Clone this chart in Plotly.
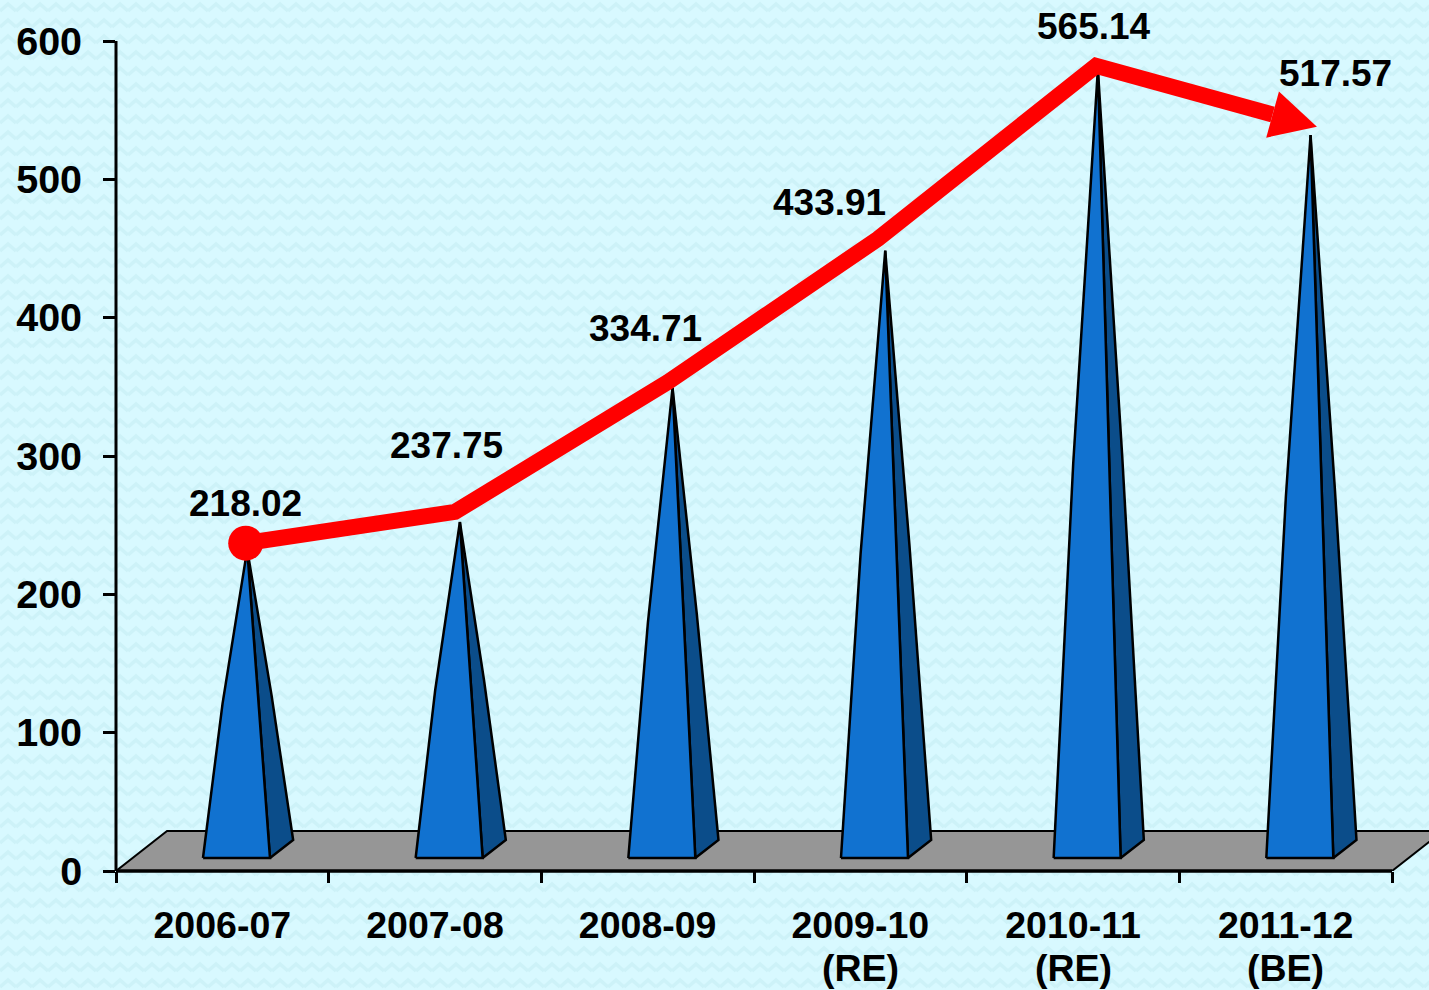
import base64
import plotly.graph_objects as go

# ---- data ----
years = ["2006-07", "2007-08", "2008-09", "2009-10", "2010-11", "2011-12"]
year_notes = ["", "", "", "(RE)", "(RE)", "(BE)"]
values = [218.02, 237.75, 334.71, 433.91, 565.14, 517.57]
value_labels = ["218.02", "237.75", "334.71", "433.91", "565.14", "517.57"]
trend_line = [237, 259.6, 353.5, 457, 582, 538]
y_ticks = [0, 100, 200, 300, 400, 500, 600]

# ---- layout constants ----
W, H = 1429, 990
L, R, T, B = 116, 1392, 41, 871
PX_X = (R - L) / 6
PX_Y = (B - T) / 600
BLACK = "#000000"
FRONT = "#1172d0"
SIDE = "#0b4d8a"
RED = "#ff0000"
FLOOR = "#969696"
FONT = dict(family="Liberation Sans, Arial, sans-serif", size=37, color=BLACK, weight=700)
XFONT = dict(FONT, size=37.5)
YFONT = dict(FONT, size=39.5)

# offsets in axis units
FRONT_L, FRONT_R, SIDE_R, APEX_X = -0.091, 0.224, 0.333, 0.117
BASE_FRONT, BASE_SIDE, APEX_LIFT = 9.4, 22.4, 14.5
FLOOR_BACK, FLOOR_SHIFT = 28.9, 0.24
SHOULDER_T, SHOULDER_L, SHOULDER_R = 0.5, 0.012, 0.006
TREND_DX = [0.11, 0.094, 0.095, 0.083, 0.108, 0.147]
LABEL_DX = [0.107, 0.052, -0.012, -0.147, 0.099, 0.236]
LABEL_DY = [48, 70.2, 57.8, 49, 45, 58.6]
X_MAX = 5.5 + (W - R) / PX_X
NOTE_Y_PX = 968

fig = go.Figure()

# floor
fig.add_trace(go.Scatter(
    x=[-0.5, 5.5, 5.5 + FLOOR_SHIFT, -0.5 + FLOOR_SHIFT, -0.5],
    y=[0, 0, FLOOR_BACK, FLOOR_BACK, 0],
    mode="lines", fill="toself", fillcolor=FLOOR,
    line=dict(color=BLACK, width=2), hoverinfo="skip"))


def lerp(a, b, t):
    return a + (b - a) * t


# pyramids: straight centre edge, outer edges slightly bowed
for i, v in enumerate(values):
    ax, ay = i + APEX_X, v + APEX_LIFT
    sx = lerp(ax, i + SIDE_R, SHOULDER_T) + SHOULDER_R
    sy = lerp(ay, BASE_SIDE, SHOULDER_T)
    fx = lerp(ax, i + FRONT_L, SHOULDER_T) - SHOULDER_L
    fy = lerp(ay, BASE_FRONT, SHOULDER_T)
    fig.add_trace(go.Scatter(
        x=[i + FRONT_R, i + SIDE_R, sx, ax, i + FRONT_R],
        y=[BASE_FRONT, BASE_SIDE, sy, ay, BASE_FRONT],
        mode="lines", fill="toself", fillcolor=SIDE,
        line=dict(color=BLACK, width=2.5), hoverinfo="skip"))
    fig.add_trace(go.Scatter(
        x=[i + FRONT_L, i + FRONT_R, ax, fx, i + FRONT_L],
        y=[BASE_FRONT, BASE_FRONT, ay, fy, BASE_FRONT],
        mode="lines", fill="toself", fillcolor=FRONT,
        line=dict(color=BLACK, width=2.5), hoverinfo="skip"))

# trend line with arrow head
tx = [i + d for i, d in enumerate(TREND_DX)]
ty = list(trend_line)
dx_px = (tx[-1] - tx[-2]) * PX_X
dy_px = (ty[-1] - ty[-2]) * PX_Y
seg = (dx_px ** 2 + dy_px ** 2) ** 0.5
ux, uy = dx_px / seg, dy_px / seg
HEAD_LEN, HEAD_HALF = 46, 24
base_x = tx[-1] - ux * HEAD_LEN / PX_X
base_y = ty[-1] - uy * HEAD_LEN / PX_Y
fig.add_trace(go.Scatter(
    x=tx[:-1] + [base_x], y=ty[:-1] + [base_y], mode="lines",
    line=dict(color=RED, width=16, simplify=False), hoverinfo="skip"))
fig.add_trace(go.Scatter(
    x=[tx[-1], base_x - uy * HEAD_HALF / PX_X, base_x + uy * HEAD_HALF / PX_X, tx[-1]],
    y=[ty[-1], base_y + ux * HEAD_HALF / PX_Y, base_y - ux * HEAD_HALF / PX_Y, ty[-1]],
    mode="lines", fill="toself", fillcolor=RED, line=dict(color=RED, width=0),
    hoverinfo="skip"))
fig.add_trace(go.Scatter(
    x=[tx[0]], y=[ty[0]], mode="markers",
    marker=dict(color=RED, size=35, line=dict(width=0)), hoverinfo="skip"))

# value labels (paper y, since the top one sits above the axis range)
for i, (v, t) in enumerate(zip(values, value_labels)):
    fig.add_annotation(x=i + LABEL_DX[i], xref="x", yref="paper",
                       y=(H - B + (v + LABEL_DY[i]) * PX_Y) / H,
                       text=t, showarrow=False, font=FONT,
                       xanchor="center", yanchor="middle")

# second line of the category labels
for i, note in enumerate(year_notes):
    if note:
        fig.add_annotation(x=i, xref="x", yref="paper", y=(H - NOTE_Y_PX) / H,
                           text=note, showarrow=False, font=XFONT,
                           xanchor="center", yanchor="middle")

# axis lines: the x line stops at the last tick, while the floor runs on to the page edge
fig.add_shape(type="line", xref="x", yref="paper", x0=-0.5, x1=5.5,
              y0=(H - B) / H, y1=(H - B) / H, line=dict(color=BLACK, width=3.5), layer="above")
fig.add_shape(type="line", xref="paper", yref="y", x0=L / W, x1=L / W,
              y0=0, y1=600, line=dict(color=BLACK, width=3), layer="above")

# textured background
svg = ('<svg xmlns="http://www.w3.org/2000/svg" width="%d" height="%d">'
       '<defs><pattern id="p" width="16" height="16" patternUnits="userSpaceOnUse">'
       '<rect width="16" height="16" fill="#d8f9ff"/>'
       '<path d="M0 11 L8 4 L16 11" fill="none" stroke="#cdf2f8" stroke-width="3.5"/>'
       '</pattern></defs><rect width="100%%" height="100%%" fill="url(#p)"/></svg>' % (W, H))
bg = "data:image/svg+xml;base64," + base64.b64encode(svg.encode()).decode()

fig.update_layout(
    width=W, height=H, autosize=False, showlegend=False,
    margin=dict(l=0, r=0, t=0, b=0, pad=0),
    paper_bgcolor="#d8f9ff", plot_bgcolor="rgba(0,0,0,0)",
    images=[dict(source=bg, xref="paper", yref="paper", x=0, y=1, sizex=1, sizey=1,
                 sizing="stretch", xanchor="left", yanchor="top", layer="below")],
    xaxis=dict(domain=[L / W, 1], range=[-0.5, X_MAX], showgrid=False, zeroline=False,
               automargin=False, tickmode="array", tickvals=list(range(6)), ticktext=years,
               ticks="", tickfont=XFONT, ticklabelstandoff=28, showline=False,
               minor=dict(tickmode="array", tickvals=[i - 0.5 for i in range(7)], ticks="outside",
                          ticklen=11, tickwidth=3, tickcolor=BLACK, showgrid=False)),
    yaxis=dict(domain=[1 - B / H, 1 - T / H], range=[0, 600], showgrid=False, zeroline=False,
               automargin=False, tickmode="array", tickvals=y_ticks, ticks="outside",
               ticklen=12, tickwidth=3, tickcolor=BLACK, tickfont=YFONT, ticklabelstandoff=13,
               showline=False),
)
fig.write_html("out.html", post_script="document.body.style.margin='0';",
               config=dict(displayModeBar=False))
